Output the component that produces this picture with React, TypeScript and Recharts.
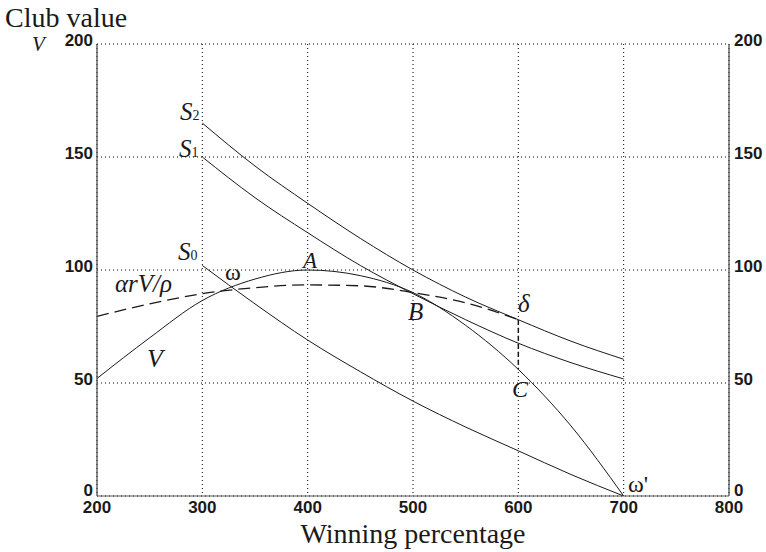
import React from 'react';
import { ComposedChart, Line, Scatter, XAxis, YAxis, CartesianGrid } from 'recharts';

// Axis ticks
const xTicks = [200, 300, 400, 500, 600, 700, 800];
const yTicks = [0, 50, 100, 150, 200];

// Curve S2
const s2X = [300, 350, 400, 450, 500, 550, 600, 650, 700];
const s2Y = [165, 146, 129.5, 114, 100, 88, 78, 68.5, 60.5];
// Curve S1
const s1X = [300, 350, 400, 450, 500, 550, 600, 650, 700];
const s1Y = [150, 132, 116.5, 102, 89.5, 78, 67.6, 59, 51.8];
// Curve S0
const s0X = [300, 350, 400, 450, 500, 550, 600, 650, 700];
const s0Y = [102, 85, 69, 55, 42, 30.5, 20, 9.5, 0];
// Curve V
const vX = [200, 250, 300, 350, 400, 450, 500, 550, 600, 650, 700];
const vY = [52, 70, 86.5, 96, 100, 97.5, 90, 75.5, 56, 31, 0];
// Dashed curve alpha r V / rho
const dX = [200, 250, 300, 350, 400, 450, 500, 550, 600];
const dY = [79.5, 85, 89.5, 92.2, 93.4, 93, 90, 85.5, 78];
// Vertical dashed segment delta -> C
const segX = [600, 600];
const segY = [78, 56];

// Annotation anchors (data coordinates, text start/baseline)
const annX = [278.8, 277.8, 276.9, 321.5, 395.6, 217.1, 247.5, 495.3, 599.7, 594, 704];
const annY = [166.4, 150, 104.4, 95.6, 100.9, 90.3, 57.1, 77.9, 81.4, 43.8, 1.8];
const annText = ['S2', 'S1', 'S0', 'ω', 'A', 'αrV/ρ', 'V', 'B', 'δ', 'C', "ω'"];

const zip = (xs: number[], ys: number[]) => xs.map((x, i) => ({ x, y: ys[i] }));

const s2Data = zip(s2X, s2Y);
const s1Data = zip(s1X, s1Y);
const s0Data = zip(s0X, s0Y);
const vData = zip(vX, vY);
const dData = zip(dX, dY);
const segData = zip(segX, segY);
const annData = annX.map((x, i) => ({ x, y: annY[i], label: annText[i] }));

const SERIF = '"Liberation Serif", "Times New Roman", serif';
const SANS = '"Liberation Sans", Arial, Helvetica, sans-serif';
const INK = '#1a1a1a';

const tickStyle = { fontFamily: SANS, fontWeight: 700, fontSize: 17, fill: INK } as const;

const LeftTick = (p: any) => (
  <text x={p.x - 4} y={p.y + (p.payload.value === 0 ? 0 : 2)} textAnchor="end" {...tickStyle}>{p.payload.value}</text>
);
const RightTick = (p: any) => (
  <text x={p.x + 5} y={p.y + (p.payload.value === 0 ? 0 : 2)} textAnchor="start" {...tickStyle}>{p.payload.value}</text>
);
const BottomTick = (p: any) => (
  <text x={p.x} y={p.y + 17} textAnchor="middle" {...tickStyle}>{p.payload.value}</text>
);

const renderAnnotation = (p: any) => {
  const { cx, cy, payload } = p;
  const lab: string = payload.label;
  if (lab[0] === 'S') {
    return (
      <text x={cx} y={cy} fontFamily={SERIF} fill={INK}>
        <tspan fontStyle="italic" fontSize={25}>S</tspan>
        <tspan fontSize={14}>{lab.slice(1)}</tspan>
      </text>
    );
  }
  const upright = lab === 'ω' || lab === "ω'";
  const sizes: Record<string, number> = {
    'ω': 24, 'A': 23, 'αrV/ρ': 25, 'V': 26, 'B': 25, 'δ': 25, 'C': 24, "ω'": 24,
  };
  return (
    <text
      x={cx}
      y={cy}
      fontFamily={SERIF}
      fontStyle={upright ? 'normal' : 'italic'}
      fontSize={sizes[lab] || 24}
      fill={INK}
    >
      {lab}
    </text>
  );
};

export default function App() {
  return (
    <div style={{ position: 'absolute', left: 0, top: 0, width: 766, height: 552, background: '#fff' }}>
      <ComposedChart
        width={766}
        height={552}
        margin={{ top: 44, right: 0, bottom: 0, left: 0 }}
      >
        <CartesianGrid stroke="#000" strokeDasharray="1 3" strokeWidth={1} />
        <XAxis
          type="number"
          dataKey="x"
          domain={[200, 800]}
          ticks={xTicks}
          allowDataOverflow
          height={56}
          tickSize={0}
          tickMargin={0}
          tickLine={false}
          axisLine={{ stroke: '#555', strokeWidth: 1.2 }}
          tick={BottomTick}
        />
        <YAxis
          type="number"
          domain={[0, 200]}
          ticks={yTicks}
          allowDataOverflow
          width={97}
          tickSize={0}
          tickMargin={0}
          tickLine={false}
          axisLine={{ stroke: '#444', strokeWidth: 1.2 }}
          tick={LeftTick}
        />
        <YAxis
          yAxisId="right"
          orientation="right"
          type="number"
          domain={[0, 200]}
          ticks={yTicks}
          allowDataOverflow
          width={37}
          tickSize={0}
          tickMargin={0}
          tickLine={false}
          axisLine={{ stroke: '#444', strokeWidth: 1.2 }}
          tick={RightTick}
        />
        <Line data={s2Data} dataKey="y" type="monotone" stroke={INK} strokeWidth={1} dot={false} isAnimationActive={false} />
        <Line data={s1Data} dataKey="y" type="monotone" stroke={INK} strokeWidth={1} dot={false} isAnimationActive={false} />
        <Line data={s0Data} dataKey="y" type="monotone" stroke={INK} strokeWidth={1} dot={false} isAnimationActive={false} />
        <Line data={vData} dataKey="y" type="monotone" stroke={INK} strokeWidth={1} dot={false} isAnimationActive={false} />
        <Line data={dData} dataKey="y" type="monotone" stroke={INK} strokeWidth={1.3} strokeDasharray="12 6" dot={false} isAnimationActive={false} />
        <Line data={segData} dataKey="y" type="linear" stroke={INK} strokeWidth={1.5} strokeDasharray="5 3" dot={false} isAnimationActive={false} />
        <Scatter data={annData} dataKey="y" shape={renderAnnotation} isAnimationActive={false} />
      </ComposedChart>
      <svg
        width={766}
        height={552}
        style={{ position: 'absolute', left: 0, top: 0, pointerEvents: 'none' }}
      >
        <text x={5} y={27} fontFamily={SERIF} fontSize={28} fill={INK}>Club value</text>
        <text x={32} y={51} fontFamily={SERIF} fontStyle="italic" fontSize={21} fill={INK}>V</text>
        <text x={413} y={543} textAnchor="middle" fontFamily={SERIF} fontSize={28} fill={INK}>Winning percentage</text>
      </svg>
    </div>
  );
}
